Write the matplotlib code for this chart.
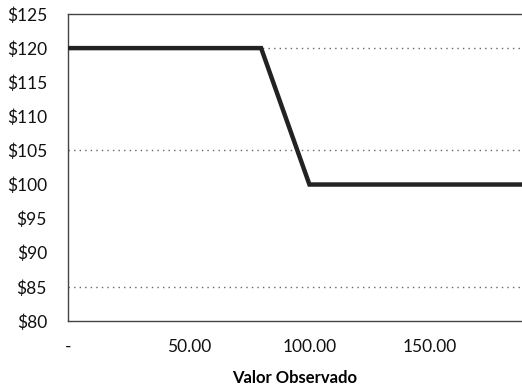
import matplotlib
matplotlib.use("Agg")
import matplotlib.pyplot as plt
from matplotlib.ticker import FuncFormatter

# piecewise price curve vs observed value
valor_observado = [0, 80, 100, 188]
precio = [120, 120, 100, 100]

y_ticks = [80, 85, 90, 95, 100, 105, 110, 115, 120, 125]
x_ticks = [0, 50, 100, 150]
grid_levels = [85, 105, 120]

plt.rcParams["font.family"] = ["Lato", "DejaVu Sans"]

fig = plt.figure(figsize=(5.22, 3.89), dpi=100)
ax = fig.add_axes([0.130, 0.175, 0.870, 0.789])

for g in grid_levels:
    ax.axhline(g, color="#666666", lw=1.0, ls=(0, (1, 3)), zorder=1)

ax.plot(valor_observado, precio, color="#222222", lw=3.2,
        solid_joinstyle="miter", zorder=3)

ax.set_xlim(0, 188)
ax.set_ylim(80, 125)
ax.set_yticks(y_ticks)
ax.set_xticks(x_ticks)
ax.yaxis.set_major_formatter(FuncFormatter(lambda v, p: f"${v:.0f}"))
ax.xaxis.set_major_formatter(FuncFormatter(lambda v, p: "-" if v == 0 else f"{v:.2f}"))
ax.tick_params(length=0, labelsize=12.5, colors="#111111")
ax.tick_params(axis="y", pad=15)
ax.tick_params(axis="x", pad=13)

for side in ("left", "top", "bottom"):
    ax.spines[side].set_color("#444444")
    ax.spines[side].set_linewidth(1.0)
    ax.spines[side].set_linestyle((0, (2, 1)))
ax.spines["right"].set_visible(False)

ax.set_xlabel("Valor Observado", fontsize=12, fontweight="bold", labelpad=11)

fig.savefig("out.png", dpi=100)
